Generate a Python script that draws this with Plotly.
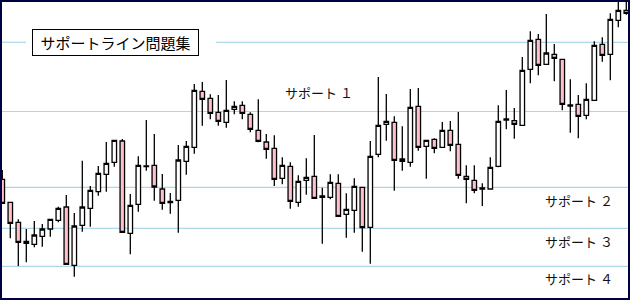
import plotly.graph_objects as go

# Daily OHLC series (79 sessions)
open_ = [120.7, 97.7, 77.7, 58.7, 55.7, 63.7, 71.0, 79.7, 93.0, 34.7,
         74.7, 91.7, 108.3, 125.7, 137.7, 159.0, 66.7, 95.7, 133.3, 134.7,
         111.0, 98.7, 99.7, 138.7, 152.7, 208.7, 201.7, 187.7, 177.7, 190.7,
         194.7, 185.7, 169.7, 158.0, 151.7, 121.7, 133.7, 97.7, 119.7, 123.7,
         104.0, 102.7, 116.7, 85.7, 89.7, 112.7, 72.7, 145.7, 175.7, 177.7,
         141.0, 137.7, 193.7, 153.7, 160.7, 152.7, 169.7, 155.7, 123.7, 119.7,
         111.0, 111.0, 133.7, 180.0, 179.3, 174.7, 230.7, 260.7, 235.7, 245.7,
         240.7, 195.0, 195.7, 184.7, 199.7, 255.7, 245.7, 279.7, 289.7]
high = [130.0, 97.7, 80.7, 71.0, 79.0, 76.0, 81.3, 93.3, 105.0, 87.0,
        139.3, 114.0, 134.0, 158.0, 159.7, 161.0, 106.0, 143.7, 180.0, 166.0,
        126.0, 107.0, 155.0, 159.0, 216.0, 218.0, 205.7, 205.0, 220.0, 198.7,
        198.7, 187.7, 200.7, 166.0, 164.7, 142.7, 137.7, 124.7, 141.7, 165.0,
        112.3, 125.7, 125.7, 106.7, 121.7, 112.7, 159.0, 223.0, 206.0, 183.7,
        173.7, 211.0, 212.0, 159.7, 161.7, 178.0, 179.0, 188.0, 134.7, 134.7,
        116.7, 142.7, 194.7, 210.0, 192.0, 243.0, 268.7, 266.0, 286.0, 256.0,
        240.7, 220.7, 205.0, 216.7, 258.7, 262.7, 286.7, 302.0, 302.0]
low = [96.7, 61.7, 34.0, 37.7, 52.7, 53.3, 63.3, 77.7, 35.7, 23.3,
       68.3, 73.3, 104.3, 108.3, 133.3, 67.7, 45.7, 88.3, 129.3, 99.3,
       90.3, 86.3, 67.3, 125.3, 146.3, 174.3, 180.7, 174.3, 172.3, 185.7,
       180.7, 167.7, 157.7, 141.3, 114.0, 115.7, 91.3, 93.3, 105.3, 101.7,
       56.3, 100.7, 83.7, 62.3, 67.3, 48.3, 36.3, 142.7, 159.3, 109.3,
       129.3, 133.3, 149.3, 121.3, 146.7, 152.7, 148.7, 121.3, 96.7, 106.7,
       94.0, 111.0, 132.7, 170.7, 161.3, 174.7, 216.7, 224.7, 235.7, 218.7,
       189.7, 167.3, 161.7, 180.7, 199.7, 238.3, 219.7, 272.7, 285.3]
close = [96.7, 76.7, 57.7, 56.7, 65.0, 71.0, 80.7, 91.7, 35.7, 74.0,
         93.0, 109.7, 126.7, 136.7, 159.7, 67.7, 94.7, 134.7, 134.0, 113.0,
         96.7, 97.3, 140.0, 153.7, 209.7, 200.7, 186.7, 178.7, 189.7, 193.7,
         186.7, 170.7, 158.7, 150.7, 120.7, 134.7, 98.7, 118.7, 122.7, 101.7,
         102.7, 117.7, 83.7, 90.7, 113.7, 72.3, 143.7, 174.7, 178.7, 139.7,
         138.7, 192.7, 152.7, 159.7, 151.7, 169.7, 154.7, 124.7, 120.7, 109.7,
         112.0, 132.7, 178.7, 181.0, 175.7, 229.7, 259.7, 234.7, 247.0, 241.7,
         195.7, 194.0, 183.7, 200.7, 254.7, 244.7, 280.7, 289.7, 286.7]
sessions = list(range(len(close)))

# Horizontal price levels (top level plus four supports)
levels = [257.7, 188.5, 112.7, 71.7, 33.7]
support_labels = ["サポート １", "サポート ２", "サポート ３", "サポート ４"]
title_text = "サポートライン問題集"

LEVEL_COLOR = "#add8e6"
FONT = "Noto Sans CJK JP"

fig = go.Figure(
    go.Candlestick(
        x=sessions, open=open_, high=high, low=low, close=close,
        increasing=dict(line=dict(color="black", width=1.3), fillcolor="white"),
        decreasing=dict(line=dict(color="black", width=1.3), fillcolor="#ffc0cb"),
        whiskerwidth=0,
        hoverinfo="skip",
    )
)

shapes = []
# top level is broken around the title box
shapes.append(dict(type="line", xref="paper", yref="y", x0=0, x1=26 / 630,
                   y0=levels[0], y1=levels[0], layer="below",
                   line=dict(color=LEVEL_COLOR, width=1.2)))
shapes.append(dict(type="line", xref="paper", yref="y", x0=216 / 630, x1=1,
                   y0=levels[0], y1=levels[0], layer="below",
                   line=dict(color=LEVEL_COLOR, width=1.2)))
for lv in levels[1:]:
    shapes.append(dict(type="line", xref="paper", yref="y", x0=0, x1=1,
                       y0=lv, y1=lv, layer="below",
                       line=dict(color=LEVEL_COLOR, width=1.2)))
# frame around the whole chart
shapes.append(dict(type="rect", xref="paper", yref="paper", x0=0, x1=1, y0=0, y1=1,
                   line=dict(color="#000040", width=4)))

annotations = [
    dict(text=title_text, xref="paper", yref="y", x=115.5 / 630, y=levels[0],
         xanchor="center", yanchor="middle", showarrow=False,
         font=dict(family=FONT, size=15, color="black"),
         bgcolor="white", bordercolor="black", borderwidth=1, borderpad=0,
         width=165, height=25),
    dict(text=support_labels[0], xref="paper", yref="y", x=283 / 630, y=levels[1],
         xanchor="left", yanchor="middle", yshift=19.5, showarrow=False,
         font=dict(family=FONT, size=13, color="#111111")),
]
for lv, lab, dy in zip(levels[2:], support_labels[1:], [-13.4, -13.4, -12]):
    annotations.append(dict(text=lab, xref="paper", yref="y", x=543 / 630, y=lv,
                            xanchor="left", yanchor="middle", yshift=dy,
                            showarrow=False,
                            font=dict(family=FONT, size=13, color="#111111")))

fig.update_layout(
    width=630, height=300,
    margin=dict(l=0, r=0, t=0, b=0),
    paper_bgcolor="white", plot_bgcolor="white",
    showlegend=False,
    boxgap=0.2, boxgroupgap=0.3,
    xaxis=dict(visible=False, range=[-2.3 / 8, (630 - 2.3) / 8],
               rangeslider=dict(visible=False), fixedrange=True),
    yaxis=dict(visible=False, range=[0, 300], fixedrange=True),
    shapes=shapes,
    annotations=annotations,
)

fig.write_html("out.html")
